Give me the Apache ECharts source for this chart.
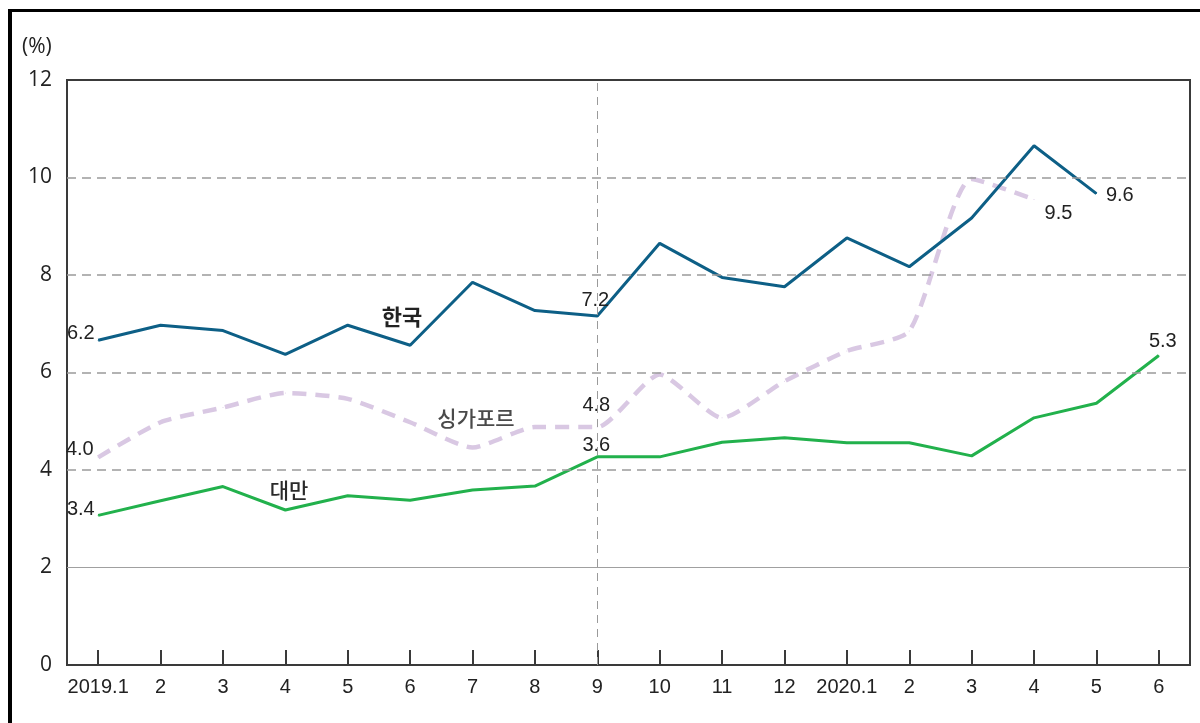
<!DOCTYPE html>
<html>
<head>
<meta charset="utf-8">
<script src="https://cdn.jsdelivr.net/npm/echarts@6/dist/echarts.min.js"></script>
<style>
  html, body { margin: 0; padding: 0; background: #fff; }
  #chart { width: 1200px; height: 723px; }
</style>
</head>
<body>
<div id="chart"></div>
<script>
  // 월별 축 라벨
  var months = ['2019.1', '2', '3', '4', '5', '6', '7', '8', '9', '10', '11', '12',
                '2020.1', '2', '3', '4', '5', '6'];
  var yTicks = [0, 2, 4, 6, 8, 10, 12];

  // 그림에서 읽은 선 위치
  var korea = [6.66, 6.97, 6.86, 6.37, 6.97, 6.56, 7.85, 7.27, 7.16, 8.65, 7.95, 7.76,
               8.76, 8.17, 9.17, 10.65, 9.67];
  var singapore = [4.26, 4.98, 5.28, 5.58, 5.46, 4.98, 4.46, 4.88, 4.88, 5.96, 5.07, 5.82,
                   6.44, 6.85, 9.97, 9.55];
  var taiwan = [3.07, 3.37, 3.66, 3.18, 3.47, 3.38, 3.59, 3.67, 4.27, 4.27, 4.57, 4.66,
                4.56, 4.56, 4.29, 5.07, 5.37, 6.35];

  // 점 옆에 적힌 수치
  var koreaLabels = { 0: '6.2', 8: '7.2', 16: '9.6' };
  var singaporeLabels = { 0: '4.0', 8: '4.8', 15: '9.5' };
  var taiwanLabels = { 0: '3.4', 8: '3.6', 17: '5.3' };

  var labelFont = '"Liberation Sans Narrow", "Liberation Sans", Arial, sans-serif';

  // 라벨 위치 (스타일)
  var labelPos = {
    korea: { 0: ['left', 3, [0, -7]], 8: ['top', 5, [-2, 0]], 16: ['right', 9, [0, 2]] },
    singapore: { 0: ['left', 4, [0, -8]], 8: ['top', 5, [-1, -6]], 15: ['right', 10, [0, 14]] },
    taiwan: { 0: ['left', 3, [0, -6]], 8: ['top', 5, [-1, 4]], 17: ['top', 5, [4, 2]] }
  };

  function withLabels(values, labels, pos) {
    return values.map(function (v, i) {
      if (labels[i] === undefined) return v;
      var p = pos[i];
      return {
        value: v,
        label: {
          show: true,
          formatter: labels[i],
          position: p[0],
          distance: p[1],
          offset: p[2],
          color: '#222',
          fontSize: 20,
          fontFamily: labelFont
        }
      };
    });
  }

  var dashed = { type: [9, 6], color: '#9a9a9a', width: 1.5 };

  var chart = echarts.init(document.getElementById('chart'));
  chart.setOption({
    animation: false,
    backgroundColor: '#fff',
    grid: {
      left: 67, right: 10, top: 80, bottom: 58,
      show: true, borderColor: '#3a3a3a', borderWidth: 2
    },
    xAxis: {
      type: 'category',
      data: months,
      boundaryGap: true,
      axisLine: { lineStyle: { color: '#3a3a3a', width: 2 } },
      axisTick: { show: true, interval: 0, inside: true, length: 15, alignWithLabel: true, lineStyle: { color: '#3a3a3a', width: 2 } },
      axisLabel: { interval: 0, color: '#222', fontSize: 20, margin: 12, fontFamily: labelFont },
      splitLine: { show: false }
    },
    yAxis: {
      type: 'value',
      min: yTicks[0],
      max: yTicks[yTicks.length - 1],
      interval: 2,
      axisLine: { show: true, lineStyle: { color: '#3a3a3a', width: 2 } },
      axisTick: { show: false },
      axisLabel: { color: '#222', fontSize: 21, margin: 15, fontFamily: '"Open Sans", "Noto Sans", sans-serif' },
      splitLine: { show: false }
    },
    graphic: [
      // 바깥 테두리
      { type: 'line', shape: { x1: 8, y1: 10.5, x2: 1200, y2: 10.5 }, style: { stroke: '#000', lineWidth: 3 } },
      { type: 'line', shape: { x1: 10, y1: 9, x2: 10, y2: 723 }, style: { stroke: '#000', lineWidth: 4 } },
      { type: 'text', left: 22, top: 37, style: { text: '(%)', fontSize: 21, fill: '#222', fontFamily: '"Open Sans", "Noto Sans", sans-serif' } },
      { type: 'text', x: 402, y: 317, style: { text: '한국', fontSize: 22, fontWeight: 'bold', fill: '#222', align: 'center', verticalAlign: 'middle', fontFamily: '"Noto Sans CJK KR", sans-serif' } },
      { type: 'text', x: 476, y: 418, style: { text: '싱가포르', fontSize: 21, fontWeight: 500, fill: '#4a4a4a', align: 'center', verticalAlign: 'middle', fontFamily: '"Noto Sans CJK KR", sans-serif' } },
      { type: 'text', x: 289, y: 490, style: { text: '대만', fontSize: 21, fontWeight: 500, fill: '#2a2a2a', align: 'center', verticalAlign: 'middle', fontFamily: '"Noto Sans CJK KR", sans-serif' } }
    ],
    series: [
      {
        name: '대만',
        type: 'line',
        data: withLabels(taiwan, taiwanLabels, labelPos.taiwan),
        symbol: 'circle',
        symbolSize: 1,
        showAllSymbol: true,
        itemStyle: { color: '#22b14c' },
        lineStyle: { color: '#22b14c', width: 3 },
        z: 3,
        markLine: {
          silent: true,
          symbol: 'none',
          label: { show: false },
          data: [
            { yAxis: 2, lineStyle: { type: 'solid', color: '#a0a0a0', width: 1.2 } },
            { yAxis: 4, lineStyle: dashed },
            { yAxis: 6, lineStyle: dashed },
            { yAxis: 8, lineStyle: dashed },
            { yAxis: 10, lineStyle: dashed },
            { xAxis: 8, lineStyle: { type: [8, 6], color: '#9a9a9a', width: 1 } }
          ]
        }
      },
      {
        name: '싱가포르',
        type: 'line',
        data: withLabels(singapore, singaporeLabels, labelPos.singapore),
        symbol: 'circle',
        symbolSize: 1,
        showAllSymbol: true,
        itemStyle: { color: '#d9c8e3' },
        smooth: 0.2,
        lineStyle: { color: '#d9c8e3', width: 4.5, type: [14, 9] },
        z: 2
      },
      {
        name: '한국',
        type: 'line',
        data: withLabels(korea, koreaLabels, labelPos.korea),
        symbol: 'circle',
        symbolSize: 1,
        showAllSymbol: true,
        itemStyle: { color: '#0d5f86' },
        lineStyle: { color: '#0d5f86', width: 3 },
        z: 4
      }
    ]
  });
</script>
</body>
</html>
